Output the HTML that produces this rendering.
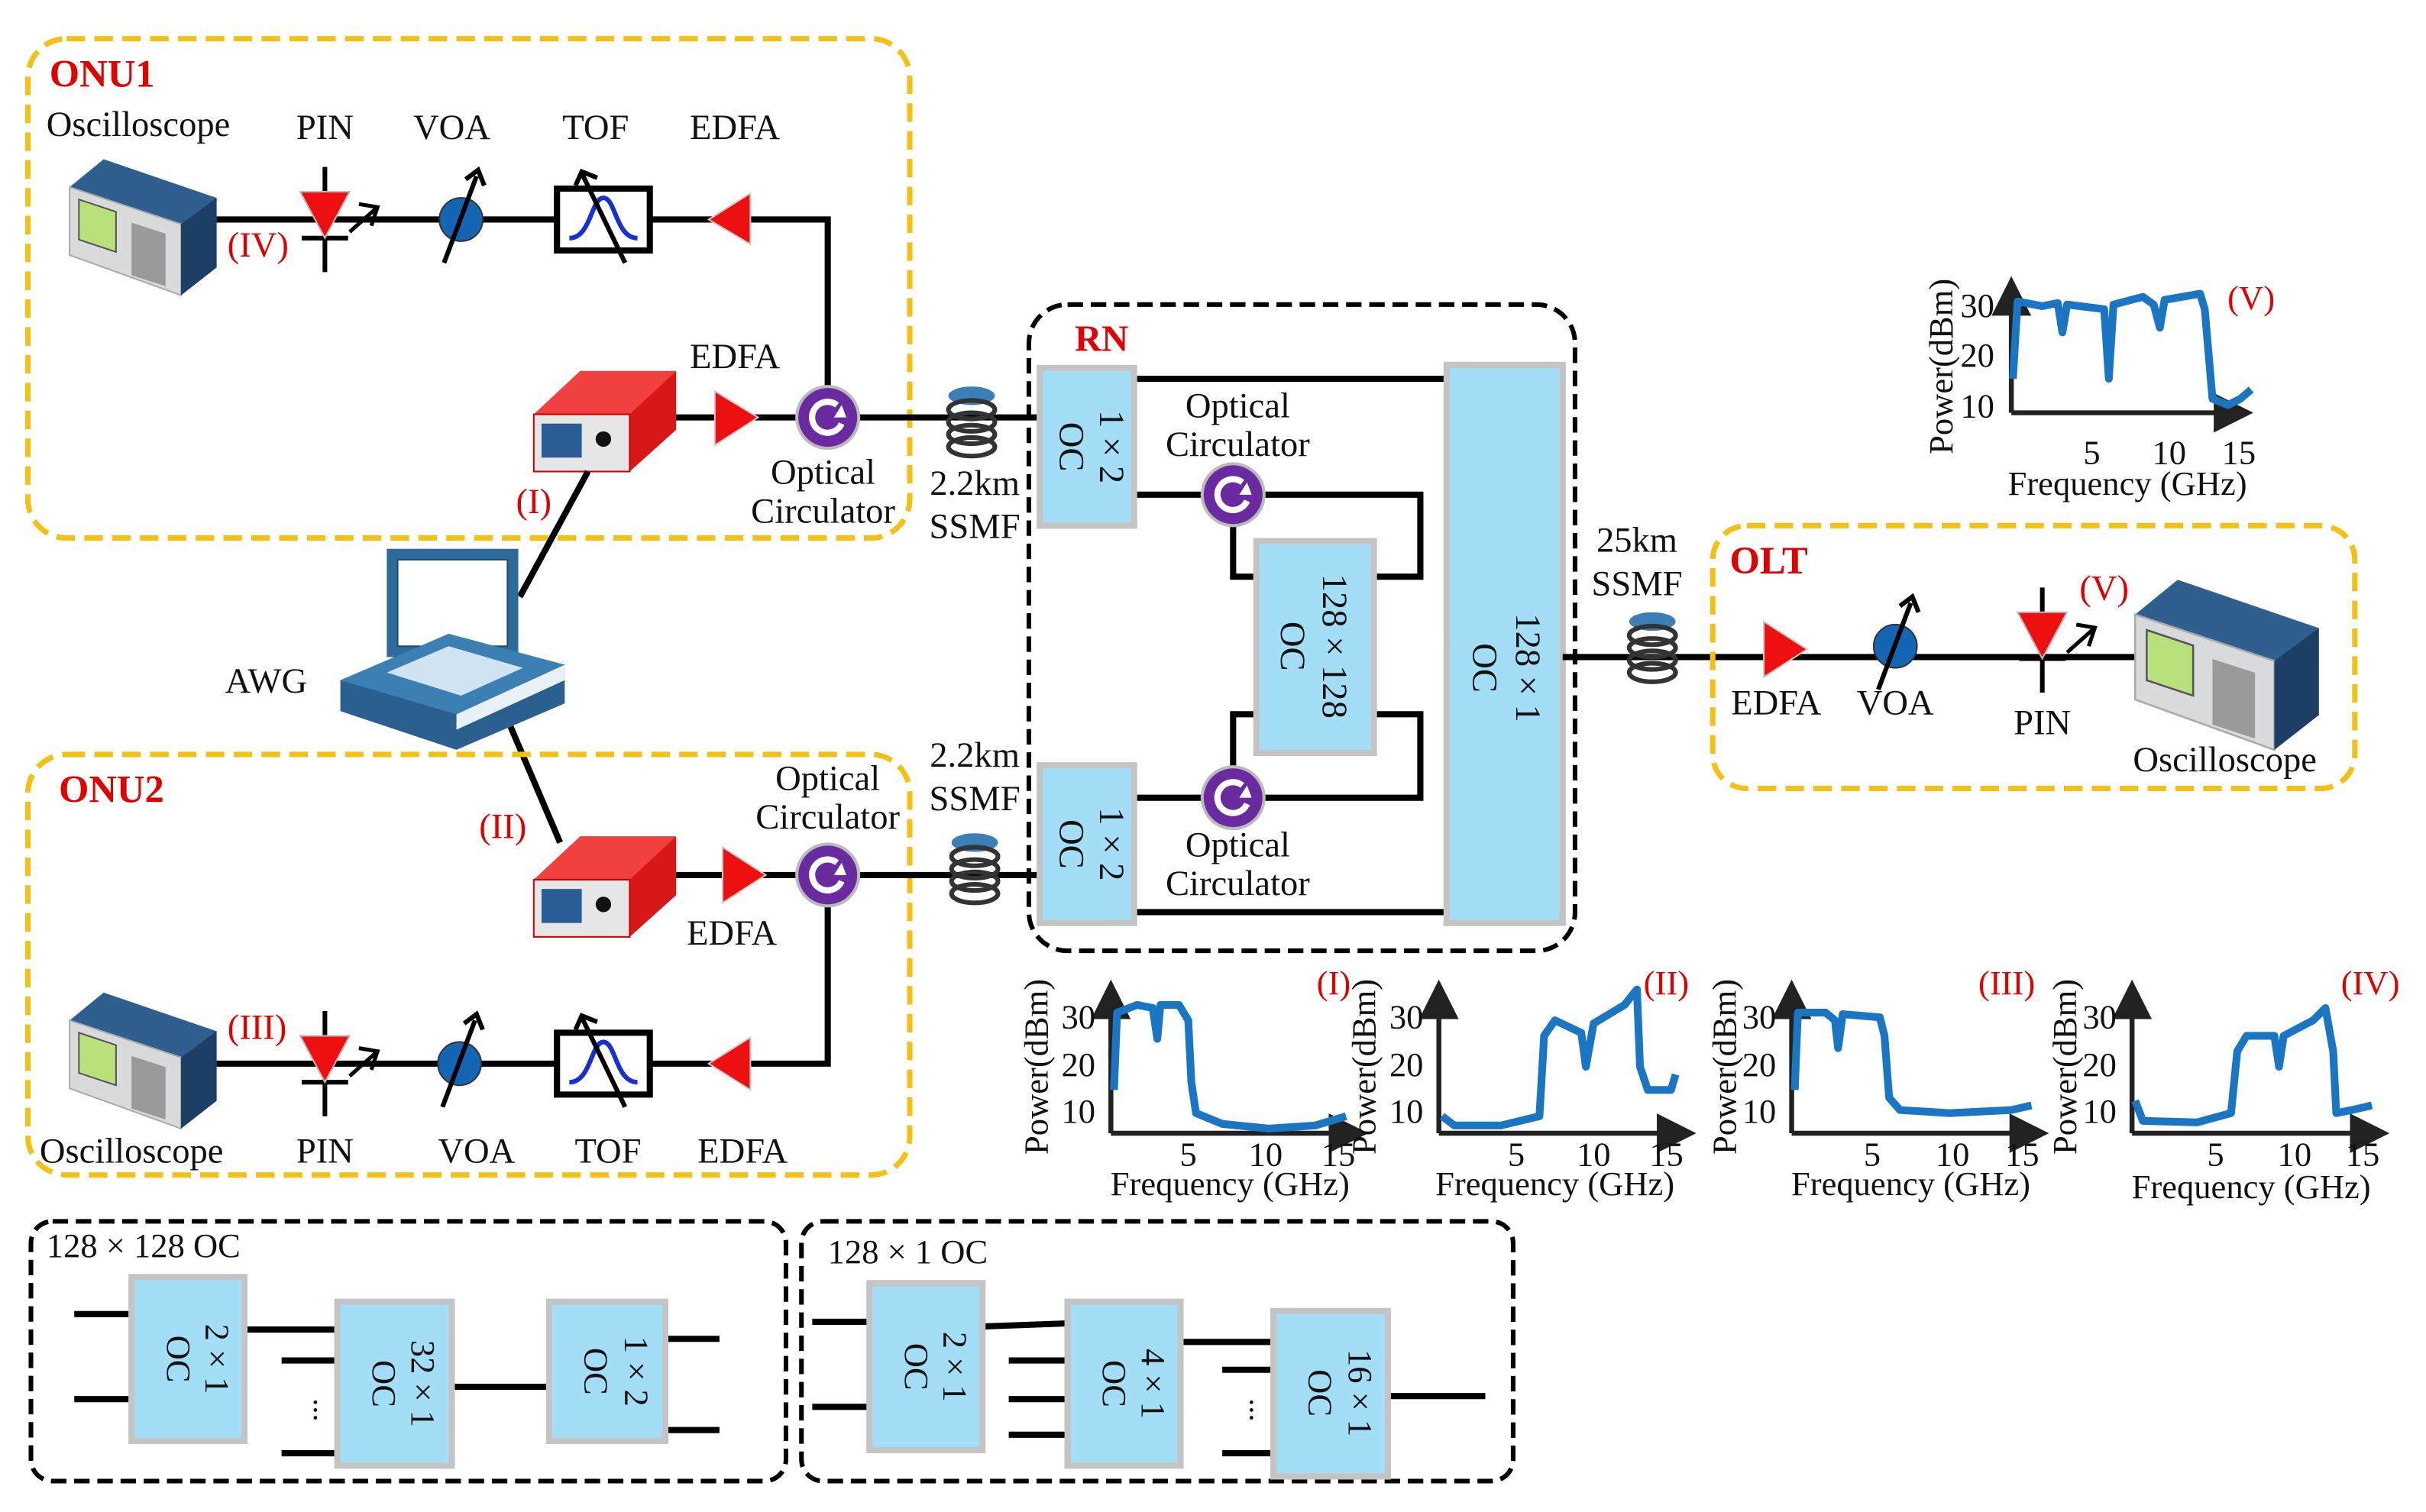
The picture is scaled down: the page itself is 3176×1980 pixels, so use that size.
<!DOCTYPE html>
<html><head><meta charset="utf-8"><style>
html,body{margin:0;padding:0;background:#fff}
svg{display:block}
text{font-family:"Liberation Serif",serif;fill:#111}
.r{fill:#e00000}
.b{font-weight:bold}
.ln{stroke:#000;stroke-width:4;fill:none}
.oc{fill:#a4def6;stroke:#c4c4c4;stroke-width:4}
.cv{stroke:#1a75c2;stroke-width:5;fill:none;stroke-linejoin:round}
.ax{stroke:#222;stroke-width:3.2;fill:none}
</style></head><body>
<svg width="3176" height="1980" viewBox="0 0 1568 978" preserveAspectRatio="none" xmlns="http://www.w3.org/2000/svg">
<defs>
<marker id="ah" markerWidth="8" markerHeight="8" refX="6" refY="4" orient="auto"><path d="M0,0 L8,4 L0,8 z" fill="#222"/></marker>
<g id="osc">
 <path d="M0,18 L22,0 L95,25 L95,70 L72,88 L0,62 z" fill="#2f5f8f"/>
 <path d="M0,18 L72,42 L72,88 L0,62 z" fill="#d8dadc" stroke="#aaa"/>
 <path d="M72,42 L95,25 L95,70 L72,88z" fill="#1d3f66"/>
 <path d="M6,26 L30,34 L30,60 L6,52z" fill="#b9e07a" stroke="#555"/>
 <rect x="40" y="40" width="22" height="34" fill="#9a9a9a" transform="skewY(18) translate(0,-12)"/>
</g>
<g id="laser">
 <path d="M0,28 L30,0 L92,0 L92,38 L62,65 L0,65z" fill="#d81818"/>
 <path d="M0,28 L62,28 L92,0 L30,0z" fill="#f04040"/>
 <rect x="0" y="28" width="62" height="37" fill="#e6e6e6" stroke="#c00"/>
 <rect x="5" y="34" width="26" height="22" fill="#2a5d96"/>
 <circle cx="45" cy="44" r="5" fill="#111"/>
</g>
<g id="spool">
 <ellipse cx="0" cy="0" rx="15" ry="6" fill="#3c7fb8"/>
 <ellipse cx="0" cy="9" rx="15" ry="6" fill="none" stroke="#333" stroke-width="3"/>
 <ellipse cx="0" cy="17" rx="15" ry="6" fill="none" stroke="#333" stroke-width="3"/>
 <ellipse cx="0" cy="25" rx="15" ry="6" fill="none" stroke="#333" stroke-width="3"/>
 <ellipse cx="0" cy="33" rx="15" ry="6" fill="none" stroke="#333" stroke-width="3"/>
</g>
<g id="circ"><circle r="20" fill="#6a2aa0" stroke="#bbb" stroke-width="2"/><path d="M6,-8 A10,10 0 1 0 9,4" stroke="#fff" stroke-width="4" fill="none"/><path d="M4,0 L12,0 L9,-8z" fill="#fff"/></g>
<g id="voa"><circle r="14" fill="#1565b5" stroke="#333"/><line x1="-11" y1="28" x2="10" y2="-28" stroke="#000" stroke-width="3"/><path d="M3,-26 L11,-32 L15,-22" stroke="#000" stroke-width="3" fill="none"/></g>
<g id="tof"><rect x="-30" y="-20" width="60" height="40" fill="#fff" stroke="#000" stroke-width="4"/><path d="M-22,12 C-8,12 -8,-14 0,-14 C8,-14 8,12 22,12" stroke="#1a2fd0" stroke-width="3" fill="none"/><line x1="-14" y1="-30" x2="14" y2="28" stroke="#000" stroke-width="3"/><path d="M-18,-22 L-14,-31 L-4,-27" stroke="#000" stroke-width="3" fill="none"/></g>
<g id="pin"><line x1="0" y1="-32" x2="0" y2="36" stroke="#000" stroke-width="3"/><line x1="-15" y1="14" x2="15" y2="14" stroke="#000" stroke-width="3"/><path d="M-16,-16 L16,-16 L0,14z" fill="#ee1010" stroke="#bbb"/><path d="M16,10 L34,-6 M22,-8 L34,-6 L30,6" stroke="#000" stroke-width="2.5" fill="none"/></g>
</defs>

<!-- ONU1 -->
<rect x="18" y="25" width="570" height="323" rx="25" fill="none" stroke="#f5c016" stroke-width="3.5" stroke-dasharray="12,6"/>
<text x="32" y="56" font-size="25" class="r b">ONU1</text>
<text x="30" y="88" font-size="23">Oscilloscope</text>
<text x="210" y="90" font-size="23" text-anchor="middle">PIN</text>
<text x="292" y="90" font-size="23" text-anchor="middle">VOA</text>
<text x="385" y="90" font-size="23" text-anchor="middle">TOF</text>
<text x="475" y="90" font-size="23" text-anchor="middle">EDFA</text>
<path class="ln" d="M140,142 L535,142 L535,250"/>
<use href="#osc" x="45" y="103"/>
<use href="#pin" x="210" y="140"/>
<text x="147" y="166" font-size="23" class="r">(IV)</text>
<use href="#voa" x="298" y="142"/>
<use href="#tof" x="390" y="142"/>
<path d="M485,125 L485,158 L458,142z" fill="#ee1010" stroke="#ccc"/>
<text x="475" y="238" font-size="23" text-anchor="middle">EDFA</text>
<path class="ln" d="M435,270 L672,270"/>
<use href="#laser" x="345" y="240"/>
<path d="M462,253 L462,288 L490,270z" fill="#ee1010" stroke="#ccc"/>
<use href="#circ" x="535" y="270"/>
<text x="532" y="313" font-size="23" text-anchor="middle">Optical</text>
<text x="532" y="338" font-size="23" text-anchor="middle">Circulator</text>
<text x="345" y="332" font-size="23" class="r" text-anchor="middle">(I)</text>
<use href="#spool" x="628" y="256"/>
<text x="630" y="320" font-size="23" text-anchor="middle">2.2km</text>
<text x="630" y="348" font-size="23" text-anchor="middle">SSMF</text>

<!-- AWG -->
<path class="ln" d="M380,305 L336,386"/>
<path class="ln" d="M330,470 L362,545"/>
<g>
 <rect x="250" y="355" width="85" height="70" fill="#2e6a9a"/>
 <rect x="257" y="362" width="71" height="56" fill="#fff" stroke="#1b4b75"/>
 <path d="M220,440 L290,410 L365,430 L365,455 L295,485 L220,460z" fill="#2a5f90"/>
 <path d="M220,440 L290,410 L365,430 L295,462z" fill="#3c7fb2"/>
 <path d="M250,435 L290,418 L338,432 L298,450z" fill="#cfe3f2"/>
 <path d="M295,462 L365,430 L365,440 L295,472z" fill="#e8f1f8"/>
</g>
<text x="172" y="448" font-size="23" text-anchor="middle">AWG</text>

<!-- ONU2 -->
<rect x="18" y="488" width="570" height="272" rx="25" fill="none" stroke="#f5c016" stroke-width="3.5" stroke-dasharray="12,6"/>
<text x="38" y="519" font-size="25" class="r b">ONU2</text>
<text x="325" y="542" font-size="23" class="r" text-anchor="middle">(II)</text>
<text x="535" y="511" font-size="23" text-anchor="middle">Optical</text>
<text x="535" y="536" font-size="23" text-anchor="middle">Circulator</text>
<path class="ln" d="M435,566 L672,566"/>
<path class="ln" d="M535,580 L535,688 L140,688"/>
<use href="#laser" x="345" y="541"/>
<path d="M467,548 L467,584 L495,566z" fill="#ee1010" stroke="#ccc"/>
<use href="#circ" x="535" y="566"/>
<text x="473" y="611" font-size="23" text-anchor="middle">EDFA</text>
<use href="#spool" x="630" y="545"/>
<text x="630" y="496" font-size="23" text-anchor="middle">2.2km</text>
<text x="630" y="524" font-size="23" text-anchor="middle">SSMF</text>
<use href="#osc" x="45" y="642"/>
<use href="#pin" x="210" y="686"/>
<text x="147" y="672" font-size="23" class="r">(III)</text>
<use href="#voa" x="297" y="688"/>
<use href="#tof" x="390" y="688"/>
<path d="M485,671 L485,705 L458,688z" fill="#ee1010" stroke="#ccc"/>
<text x="85" y="752" font-size="23" text-anchor="middle">Oscilloscope</text>
<text x="210" y="752" font-size="23" text-anchor="middle">PIN</text>
<text x="308" y="752" font-size="23" text-anchor="middle">VOA</text>
<text x="393" y="752" font-size="23" text-anchor="middle">TOF</text>
<text x="480" y="752" font-size="23" text-anchor="middle">EDFA</text>

<!-- RN -->
<rect x="665" y="197" width="353" height="418" rx="25" fill="none" stroke="#000" stroke-width="3" stroke-dasharray="10,5"/>
<text x="712" y="227" font-size="24" class="r b" text-anchor="middle">RN</text>
<path class="ln" d="M733,245 L935,245"/>
<path class="ln" d="M733,320 L918,320 L918,373 L888,373"/>
<path class="ln" d="M797,335 L797,373 L812,373"/>
<path class="ln" d="M733,590 L935,590"/>
<path class="ln" d="M733,516 L918,516 L918,462 L888,462"/>
<path class="ln" d="M797,500 L797,462 L812,462"/>
<rect class="oc" x="672" y="238" width="61" height="102"/>
<rect class="oc" x="672" y="495" width="61" height="102"/>
<rect class="oc" x="812" y="350" width="76" height="137"/>
<rect class="oc" x="935" y="236" width="75" height="361"/>
<g font-size="23">
<text transform="translate(711,289) rotate(90)" text-anchor="middle">1 × 2</text>
<text transform="translate(685,289) rotate(90)" text-anchor="middle">OC</text>
<text transform="translate(711,546) rotate(90)" text-anchor="middle">1 × 2</text>
<text transform="translate(685,546) rotate(90)" text-anchor="middle">OC</text>
<text transform="translate(855,418) rotate(90)" text-anchor="middle">128 × 128</text>
<text transform="translate(828,418) rotate(90)" text-anchor="middle">OC</text>
<text transform="translate(980,432) rotate(90)" text-anchor="middle">128 × 1</text>
<text transform="translate(952,432) rotate(90)" text-anchor="middle">OC</text>
</g>
<use href="#circ" x="797" y="320"/>
<use href="#circ" x="797" y="516"/>
<text x="800" y="270" font-size="23" text-anchor="middle">Optical</text>
<text x="800" y="295" font-size="23" text-anchor="middle">Circulator</text>
<text x="800" y="554" font-size="23" text-anchor="middle">Optical</text>
<text x="800" y="579" font-size="23" text-anchor="middle">Circulator</text>

<!-- OLT -->
<path class="ln" d="M1010,425 L1390,425"/>
<use href="#spool" x="1068" y="402"/>
<text x="1058" y="357" font-size="23" text-anchor="middle">25km</text>
<text x="1058" y="385" font-size="23" text-anchor="middle">SSMF</text>
<rect x="1107" y="340" width="415" height="170" rx="22" fill="none" stroke="#f5c016" stroke-width="3.5" stroke-dasharray="12,6"/>
<text x="1118" y="371" font-size="25" class="r b">OLT</text>
<path d="M1140,402 L1140,438 L1168,420z" fill="#ee1010" stroke="#ccc"/>
<use href="#voa" x="1225" y="418"/>
<use href="#pin" x="1320" y="412"/>
<text x="1360" y="388" font-size="23" class="r" text-anchor="middle">(V)</text>
<use href="#osc" x="1380" y="375" transform="translate(1380,375) scale(1.25) translate(-1380,-375)"/>
<text x="1148" y="462" font-size="23" text-anchor="middle">EDFA</text>
<text x="1225" y="462" font-size="23" text-anchor="middle">VOA</text>
<text x="1320" y="475" font-size="23" text-anchor="middle">PIN</text>
<text x="1438" y="499" font-size="23" text-anchor="middle">Oscilloscope</text>

<!-- Plot V -->
<g font-size="22">
<path class="ax" d="M1300,267 L1300,185" marker-end="url(#ah)"/>
<path class="ax" d="M1300,267 L1450,267" marker-end="url(#ah)"/>
<path class="cv" d="M1301,245 L1304,195 L1320,198 L1330,196 L1333,215 L1336,197 L1360,200 L1363,245 L1366,197 L1385,192 L1392,197 L1396,212 L1399,194 L1422,190 L1425,200 L1430,258 L1440,262 L1448,258 L1455,252"/>
<text x="1289" y="205" text-anchor="end">30</text>
<text x="1289" y="237" text-anchor="end">20</text>
<text x="1289" y="270" text-anchor="end">10</text>
<text x="1352" y="300" text-anchor="middle">5</text>
<text x="1402" y="300" text-anchor="middle">10</text>
<text x="1447" y="300" text-anchor="middle">15</text>
<text x="1375" y="320" text-anchor="middle">Frequency (GHz)</text>
<text transform="translate(1262,237) rotate(-90)" text-anchor="middle">Power(dBm)</text>
<text x="1455" y="200" class="r" text-anchor="middle">(V)</text>
</g>

<!-- Bottom plots -->
<g font-size="22">
<g>
<path class="ax" d="M718,733 L718,640" marker-end="url(#ah)"/>
<path class="ax" d="M718,733 L878,733" marker-end="url(#ah)"/>
<path class="cv" d="M720,705 L722,655 L735,650 L745,652 L748,672 L750,650 L762,650 L768,660 L770,700 L773,720 L790,727 L820,730 L850,728 L870,722"/>
<text x="708" y="665" text-anchor="end">30</text><text x="708" y="696" text-anchor="end">20</text><text x="708" y="726" text-anchor="end">10</text>
<text x="768" y="754" text-anchor="middle">5</text><text x="818" y="754" text-anchor="middle">10</text><text x="865" y="754" text-anchor="middle">15</text>
<text x="795" y="773" text-anchor="middle">Frequency (GHz)</text>
<text transform="translate(677,690) rotate(-90)" text-anchor="middle">Power(dBm)</text>
<text x="862" y="643" class="r" text-anchor="middle">(I)</text>
</g>
<g>
<path class="ax" d="M930,733 L930,640" marker-end="url(#ah)"/>
<path class="ax" d="M930,733 L1090,733" marker-end="url(#ah)"/>
<path class="cv" d="M932,722 L940,728 L970,728 L995,722 L998,670 L1005,660 L1022,668 L1025,690 L1030,662 L1050,650 L1058,640 L1060,690 L1065,705 L1080,705 L1083,695"/>
<text x="920" y="665" text-anchor="end">30</text><text x="920" y="696" text-anchor="end">20</text><text x="920" y="726" text-anchor="end">10</text>
<text x="980" y="754" text-anchor="middle">5</text><text x="1030" y="754" text-anchor="middle">10</text><text x="1077" y="754" text-anchor="middle">15</text>
<text x="1005" y="773" text-anchor="middle">Frequency (GHz)</text>
<text transform="translate(889,690) rotate(-90)" text-anchor="middle">Power(dBm)</text>
<text x="1077" y="643" class="r" text-anchor="middle">(II)</text>
</g>
<g>
<path class="ax" d="M1158,733 L1158,640" marker-end="url(#ah)"/>
<path class="ax" d="M1158,733 L1318,733" marker-end="url(#ah)"/>
<path class="cv" d="M1160,705 L1162,655 L1180,655 L1186,660 L1188,678 L1191,656 L1215,658 L1218,670 L1221,710 L1228,718 L1260,720 L1300,718 L1313,715"/>
<text x="1148" y="665" text-anchor="end">30</text><text x="1148" y="696" text-anchor="end">20</text><text x="1148" y="726" text-anchor="end">10</text>
<text x="1210" y="754" text-anchor="middle">5</text><text x="1262" y="754" text-anchor="middle">10</text><text x="1307" y="754" text-anchor="middle">15</text>
<text x="1235" y="773" text-anchor="middle">Frequency (GHz)</text>
<text transform="translate(1122,690) rotate(-90)" text-anchor="middle">Power(dBm)</text>
<text x="1297" y="643" class="r" text-anchor="middle">(III)</text>
</g>
<g>
<path class="ax" d="M1378,733 L1378,640" marker-end="url(#ah)"/>
<path class="ax" d="M1378,733 L1538,733" marker-end="url(#ah)"/>
<path class="cv" d="M1380,712 L1385,725 L1420,726 L1442,720 L1446,680 L1452,670 L1470,670 L1473,690 L1476,670 L1495,660 L1503,652 L1508,680 L1510,720 L1520,718 L1533,715"/>
<text x="1368" y="665" text-anchor="end">30</text><text x="1368" y="696" text-anchor="end">20</text><text x="1368" y="726" text-anchor="end">10</text>
<text x="1432" y="754" text-anchor="middle">5</text><text x="1483" y="754" text-anchor="middle">10</text><text x="1527" y="754" text-anchor="middle">15</text>
<text x="1455" y="775" text-anchor="middle">Frequency (GHz)</text>
<text transform="translate(1342,690) rotate(-90)" text-anchor="middle">Power(dBm)</text>
<text x="1532" y="643" class="r" text-anchor="middle">(IV)</text>
</g>
</g>

<!-- Bottom box 1 -->
<rect x="20" y="790" width="488" height="168" rx="14" fill="none" stroke="#000" stroke-width="3" stroke-dasharray="10,5"/>
<text x="30" y="813" font-size="22">128 × 128 OC</text>
<path class="ln" d="M48,850 L85,850 M48,905 L85,905 M158,860 L218,860 M182,880 L218,880 M182,940 L218,940 M292,897 L355,897 M430,866 L465,866 M430,925 L465,925"/>
<text x="203" y="912" font-size="20" text-anchor="middle" transform="rotate(90,203,912)">...</text>
<rect class="oc" x="85" y="826" width="73" height="106"/>
<rect class="oc" x="218" y="842" width="74" height="106"/>
<rect class="oc" x="355" y="842" width="75" height="90"/>
<g font-size="22">
<text transform="translate(133,879) rotate(90)" text-anchor="middle">2 × 1</text>
<text transform="translate(108,879) rotate(90)" text-anchor="middle">OC</text>
<text transform="translate(266,895) rotate(90)" text-anchor="middle">32 × 1</text>
<text transform="translate(241,895) rotate(90)" text-anchor="middle">OC</text>
<text transform="translate(404,887) rotate(90)" text-anchor="middle">1 × 2</text>
<text transform="translate(378,887) rotate(90)" text-anchor="middle">OC</text>
</g>

<!-- Bottom box 2 -->
<rect x="518" y="790" width="460" height="168" rx="14" fill="none" stroke="#000" stroke-width="3" stroke-dasharray="10,5"/>
<text x="535" y="817" font-size="22">128 × 1 OC</text>
<path class="ln" d="M525,855 L562,855 M525,910 L562,910 M635,858 L690,856 M652,880 L690,880 M652,905 L690,905 M652,928 L690,928 M763,868 L823,868 M790,886 L823,886 M790,940 L823,940 M897,903 L960,903"/>
<text x="808" y="912" font-size="20" text-anchor="middle" transform="rotate(90,808,912)">...</text>
<rect class="oc" x="562" y="830" width="73" height="108"/>
<rect class="oc" x="690" y="842" width="73" height="106"/>
<rect class="oc" x="823" y="848" width="74" height="107"/>
<g font-size="22">
<text transform="translate(610,884) rotate(90)" text-anchor="middle">2 × 1</text>
<text transform="translate(585,884) rotate(90)" text-anchor="middle">OC</text>
<text transform="translate(738,895) rotate(90)" text-anchor="middle">4 × 1</text>
<text transform="translate(713,895) rotate(90)" text-anchor="middle">OC</text>
<text transform="translate(872,901) rotate(90)" text-anchor="middle">16 × 1</text>
<text transform="translate(846,901) rotate(90)" text-anchor="middle">OC</text>
</g>
</svg>
</body></html>
